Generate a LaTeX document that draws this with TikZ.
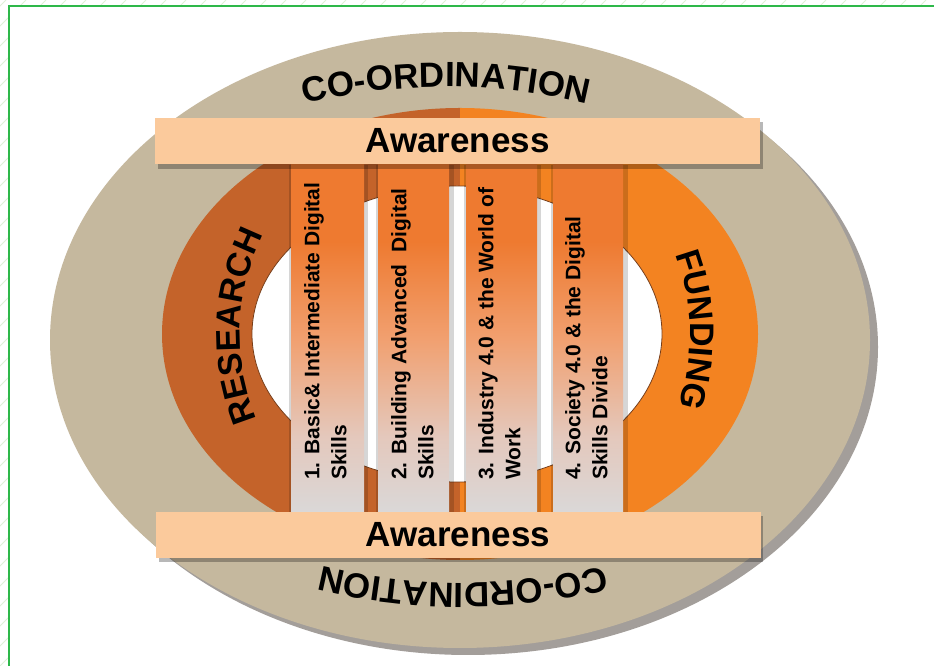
\documentclass[tikz,border=0pt]{standalone}
\usepackage{fontspec}
\setmainfont{Liberation Sans}
\usetikzlibrary{decorations.text}
\definecolor{cTan}{RGB}{197,184,158}
\definecolor{cShadow}{RGB}{163,158,154}
\definecolor{cRingL}{RGB}{196,99,42}
\definecolor{cRingR}{RGB}{243,131,33}
\definecolor{cBar}{RGB}{251,202,156}
\definecolor{cPorange}{RGB}{238,122,48}
\definecolor{cPpeach}{RGB}{241,160,112}
\definecolor{cPmid}{RGB}{228,200,188}
\definecolor{cPgray}{RGB}{218,216,216}
\definecolor{cFrame}{RGB}{46,184,74}
\definecolor{cHatch}{RGB}{222,240,216}
\definecolor{cHoleEdge}{RGB}{120,62,25}
\pgfdeclareverticalshading{pillarshade}{100bp}{color(0bp)=(cPgray); color(25bp)=(cPgray); color(36bp)=(cPmid); color(50bp)=(cPpeach); color(64bp)=(cPorange); color(100bp)=(cPorange)}
\newcommand\ringfont{\fontsize{34}{34}\selectfont\bfseries}
\newcommand\coordfont{\fontsize{35}{35}\selectfont\bfseries}
\tikzset{
  bar/.style={fill=cBar, draw=none, minimum width=605pt, minimum height=46pt, inner sep=0pt, font=\fontsize{35}{35}\selectfont\bfseries},
  pillar/.style={shading=pillarshade, draw=none, minimum width=72pt, minimum height=348pt, inner sep=0pt},
  ptext/.style={rotate=90, anchor=north west, inner sep=0pt, align=left, font=\fontsize{21}{27}\selectfont\bfseries},
  pshadow/.style={fill=black, opacity=0.16},
  barshadow/.style={fill=black, opacity=0.28},
}
\begin{document}
\begin{tikzpicture}[x=1pt,y=1pt]
\useasboundingbox (0,0) rectangle (934,666);
\fill[white] (0,0) rectangle (934,666);
% hatched margin
\begin{scope}
  \clip (0,0) rectangle (8,666) (0,660) rectangle (934,666);
  \foreach \i in {-680,-660,...,940} \draw[cHatch, line width=0.8pt] (\i,0) -- ++(666,666);
\end{scope}
\draw[cFrame, line width=2pt] (8.5,-2) -- (8.5,659.5) -- (936,659.5);
% outer disk
\fill[cShadow] (468,319) ellipse [x radius=410, y radius=308];
\fill[cTan] (460,326) ellipse [x radius=410, y radius=308];
% ring
\begin{scope}
  \clip (0,0) rectangle (460,666);
  \fill[cRingL] (460,332) ellipse [x radius=298, y radius=226];
\end{scope}
\begin{scope}
  \clip (460,0) rectangle (934,666);
  \fill[cRingR] (460,332) ellipse [x radius=298, y radius=226];
\end{scope}
\filldraw[fill=white, draw=cHoleEdge, line width=0.8pt] (457,332) ellipse [x radius=205, y radius=148];
% curved labels
\path[decorate, decoration={text along path, text={|\coordfont|CO-ORDINATION}, text align=center}]
  (446,-21) ++(110:600) arc[start angle=110, end angle=70, radius=600];
\path[decorate, decoration={text along path, text={|\coordfont|CO-ORDINATION}, text align=center}]
  (463,683) ++(290:600) arc[start angle=290, end angle=250, radius=600];
\path[decorate, decoration={text along path, text={|\ringfont|RESEARCH}, text align=center}]
  (460,332) ++(214:220) arc[start angle=214, end angle=142, radius=220];
\path[decorate, decoration={text along path, text={|\ringfont|FUNDING}, text align=center}]
  (460,332) ++(39:230) arc[start angle=39, end angle=-37, radius=230];
% pillar shadows
\fill[pshadow] (289,153) rectangle (368,501);
\fill[pshadow] (376,153) rectangle (454,501);
\fill[pshadow] (464,153) rectangle (541,501);
\fill[pshadow] (551,153) rectangle (628,501);
% pillars
\node[pillar, minimum width=73pt] (p1) at (327.5,327) {};
\node[pillar, minimum width=71pt] (p2) at (413.5,327) {};
\node[pillar, minimum width=71pt] (p3) at (501.5,327) {};
\node[pillar, minimum width=70pt] (p4) at (588,327) {};
\node[ptext] (t1) at (304,186) {1. Basic\& Intermediate Digital\\Skills};
\node[ptext] (t2) at (391,186) {2. Building Advanced~ Digital\\Skills};
\node[ptext] (t3) at (478,186) {3. Industry 4.0 \& the World of\\Work};
\node[ptext] (t4) at (565,186) {4. Society 4.0 \& the Digital\\Skills Divide};
% awareness bars
\fill[barshadow] (158,497) rectangle (763,544);
\node[bar] (topbar) at (457.5,525) {Awareness};
\fill[barshadow] (159,104) rectangle (763,150);
\node[bar] (botbar) at (458,131) {Awareness};
\end{tikzpicture}
\end{document}
